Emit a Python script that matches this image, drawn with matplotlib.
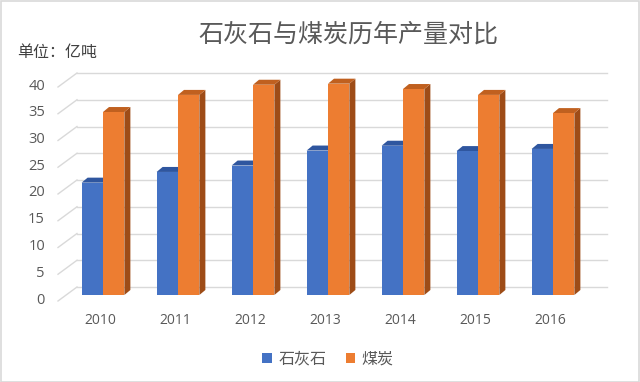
import matplotlib
matplotlib.use("Agg")
import matplotlib.pyplot as plt
from matplotlib.patches import Polygon, Patch, Rectangle
import numpy as np

plt.rcParams['font.family'] = ['Noto Sans CJK SC', 'DejaVu Sans']

years = ['2010', '2011', '2012', '2013', '2014', '2015', '2016']
limestone = [21.0, 23.0, 24.2, 27.0, 27.9, 26.9, 27.3]
coal = [34.2, 37.4, 39.3, 39.5, 38.5, 37.4, 34.0]
series_names = ['石灰石', '煤炭']
yticks = [0, 5, 10, 15, 20, 25, 30, 35, 40]

W, H = 640, 382
fig = plt.figure(figsize=(6.4, 3.82), dpi=100)

# axes geometry (pixels)
ax_l, ax_r, ax_t, ax_b = 58, 610, 70, 295
ax = fig.add_axes([ax_l / W, (H - ax_b) / H, (ax_r - ax_l) / W, (ax_b - ax_t) / H])
px_x = 75.0           # pixels per category
px_y = 5.35           # pixels per unit
x0_px = 103.0
ax.set_xlim((ax_l - x0_px) / px_x, (ax_r - x0_px) / px_x)
ax.set_ylim(0, (ax_b - ax_t) / px_y)
ax.axis('off')

def dx(p):
    return p / px_x

def dy(p):
    return p / px_y

grid_c = '#D9D9D9'
xa = (58 - x0_px) / px_x
xb = (77 - x0_px) / px_x
xc = (607 - x0_px) / px_x
for v in yticks:
    ax.plot([xa, xb], [v - dy(6), v + dy(8)], color=grid_c, lw=1.0, zorder=1, clip_on=False)
    ax.plot([xb, xc], [v + dy(8), v + dy(8)], color=grid_c, lw=1.0, zorder=1, clip_on=False)
    ax.text((45 - x0_px) / px_x, v - dy(5), str(v), ha='right', va='center',
            fontsize=10.5, color='#595959', family=['Open Sans', 'DejaVu Sans'], clip_on=False)

bw = 0.285
ddx, ddy = dx(6), dy(5)
styles = [
    dict(front='#4472C4', top='#2F569F', side='#2B4F8F'),
    dict(front='#ED7D31', top='#C0601F', side='#9E4C17'),
]
xs = np.arange(len(years))
for si, vals in enumerate([limestone, coal]):
    st = styles[si]
    off = -bw / 2 if si == 0 else bw / 2
    for i, h in enumerate(vals):
        x0 = xs[i] + off - bw / 2
        x1 = x0 + bw
        z = 3 + si * 3
        ax.add_patch(Polygon([(x1, 0), (x1 + ddx, ddy), (x1 + ddx, h + ddy), (x1, h)],
                             closed=True, facecolor=st['side'], edgecolor='none', zorder=z))
        ax.add_patch(Polygon([(x0, h), (x1, h), (x1 + ddx, h + ddy), (x0 + ddx, h + ddy)],
                             closed=True, facecolor=st['top'], edgecolor='none', zorder=z))
    ax.bar(xs + off, vals, width=bw, color=st['front'], zorder=3 + si * 3 + 1, linewidth=0)

for i, yr in enumerate(years):
    ax.text(xs[i] - 0.04, -dy(25), yr, ha='center', va='center', fontsize=10,
            color='#595959', family=['Open Sans', 'DejaVu Sans'], clip_on=False)

fig.text(348 / W, (H - 35) / H, '石灰石与煤炭历年产量对比', ha='center', va='center',
         fontsize=18, color='#595959', fontweight='medium')
fig.text(17 / W, (H - 52) / H, '单位：亿吨', ha='left', va='center',
         fontsize=11.5, color='#404040')

handles = [Patch(facecolor=styles[0]['front']), Patch(facecolor=styles[1]['front'])]
fig.legend(handles, series_names, loc='center', bbox_to_anchor=(328 / W, (H - 359) / H),
           ncol=2, frameon=False, fontsize=11.5, handlelength=0.6, handleheight=0.6,
           handletextpad=0.4, columnspacing=1.2, labelcolor='#595959')

fig.patches.append(Rectangle((0.001, 0.001), 0.997, 0.997, transform=fig.transFigure,
                             fill=False, edgecolor='#D9D9D9', lw=1.2))

fig.savefig('out.png', dpi=100)
